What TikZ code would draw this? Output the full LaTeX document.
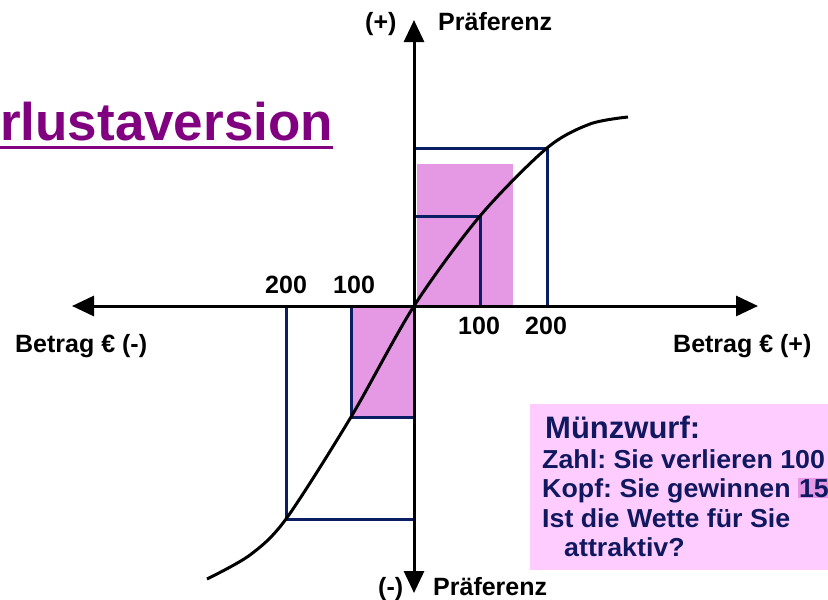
\documentclass[tikz,border=0pt]{standalone}
\usepackage{fontspec}
\setmainfont{Liberation Sans}
\newfontfamily\boxfont[FakeStretch=1.03]{Liberation Sans}
\usetikzlibrary{arrows.meta}
\definecolor{navyline}{RGB}{10,30,100}
\definecolor{navytext}{RGB}{16,24,96}
\definecolor{fillpink}{RGB}{229,153,229}
\definecolor{boxpink}{RGB}{255,204,255}
\definecolor{titlepurple}{RGB}{128,0,128}
\frenchspacing
\begin{document}
\begin{tikzpicture}[x=1pt,y=-1pt,
  axisline/.style={line width=3pt, {Triangle[length=22pt,width=20pt]}-{Triangle[length=22pt,width=20pt]}},
  outline/.style={draw=navyline, line width=3pt},
  curveline/.style={draw=black, line width=3pt},
  lbl/.style={font=\bfseries\fontsize{25}{25}\selectfont, inner sep=0pt, anchor=base west},
  boxtxt/.style={font=\boxfont\bfseries\fontsize{26}{26}\selectfont, text=navytext, inner sep=0pt, anchor=base west}]
\useasboundingbox (0,0) rectangle (828,600);
% title
\node[anchor=base west, inner sep=0pt, text=titlepurple, font=\bfseries\fontsize{53}{53}\selectfont] (title) at (0,140) {rlustaversion};
\draw[titlepurple, line width=3pt] (0,147) -- (333,147);
% pink fills
\fill[fillpink] (417,164) rectangle (513,306);
\fill[fillpink] (351,306) rectangle (414,417);
% navy outlines
\draw[outline] (414,148) -| (547,306);
\draw[outline] (414,216) -| (480,306);
\draw[outline] (351,306) |- (414,417);
\draw[outline] (286,306) |- (414,519);
% curve
\draw[curveline] plot[smooth, tension=0.5] coordinates {(207,579) (250,555) (286,519) (351,417) (414,306) (480,216) (547,148) (590,124) (628,117)};
% axes
\coordinate (xl) at (72,306);
\coordinate (xr) at (758,306);
\coordinate (yb) at (414,593);
\coordinate (yt) at (414,20);
\draw[axisline] (xl) -- (xr);
\draw[axisline] (yb) -- (yt);
% axis labels
\node[lbl] (plus) at (365,30) {(+)};
\node[lbl] (praefo) at (438,30) {Präferenz};
\node[lbl] (minus) at (378,595) {(-)};
\node[lbl] (praefu) at (433,595) {Präferenz};
\node[lbl] (bl) at (15,352) {Betrag € (-)};
\node[lbl] (br) at (673,352) {Betrag € (+)};
\node[lbl] (l200) at (265,293) {200};
\node[lbl] (l100) at (333,293) {100};
\node[lbl] (r100) at (458,334) {100};
\node[lbl] (r200) at (525,334) {200};
% info box
\fill[boxpink] (530,404) rectangle (828,570);
\node[boxtxt, font=\bfseries\fontsize{31}{31}\selectfont] (mw) at (545,438) {Münzwurf:};
\node[boxtxt] (zahl) at (542,468) {Zahl: Sie verlieren 100};
\node[boxtxt] (kopf) at (542,497) {Kopf: Sie gewinnen {\setlength{\fboxsep}{1pt}\colorbox{fillpink}{15}}};
\node[boxtxt] (wette) at (542,527) {Ist die Wette für Sie};
\node[boxtxt] (attr) at (564,556) {attraktiv?};
\end{tikzpicture}
\end{document}
